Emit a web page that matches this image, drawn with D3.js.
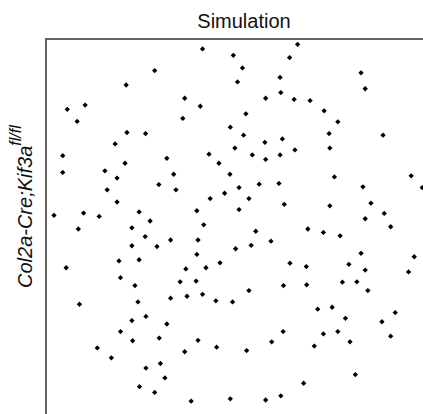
<!DOCTYPE html>
<html>
<head>
<meta charset="utf-8">
<script src="https://cdn.jsdelivr.net/npm/d3@7"></script>
<style>
  body { margin: 0; background: #fff; }
  svg { display: block; font-family: "Liberation Sans", Arial, sans-serif; }
</style>
</head>
<body>
<svg id="chart" width="423" height="414"></svg>
<script>
// simulated point positions, 0-100 in both directions (y up)
const xs = [28.6,21.1,5.6,10.3,8.2,21.3,26.2,18.2,4.4,31.8,
  41.2,49.3,51.7,64.1,50.4,61.6,61.8,57.8,65.3,36.5,40.6,36.0,52.6,48.5,52.0,57.6,62.2,49.7,42.9,54.3,57.8,61.6,65.5,
  66.2,82.9,84.0,69.5,73.2,76.8,74.5,88.7,74.7,
  4.4,20.8,15.5,18.7,29.7,16.1,18.7,2.1,9.9,14.0,24.5,27.4,8.5,22.6,26.1,32.8,22.6,29.2,19.2,24.5,5.3,19.6,23.4,
  45.5,33.6,48.4,34.2,50.8,56.1,61.3,43.2,47.0,53.4,62.7,39.7,50.8,41.5,55.2,40.0,59.2,49.9,54.0,39.7,45.8,64.2,36.8,42.1,35.3,39.5,62.5,
  75.9,96.1,99.0,83.4,74.7,85.5,84.0,89.0,90.7,68.9,73.0,77.4,82.9,96.9,68.5,79.7,84.0,95.4,68.6,78.0,81.8,
  8.8,24.2,32.8,22.6,26.3,31.8,19.6,22.8,29.8,13.5,17.2,26.3,30.1,31.3,24.6,28.6,
  37.1,41.2,44.7,49.1,53.4,40.0,36.5,44.9,52.8,59.4,62.4,38.2,48.5,57.8,61.8,
  84.7,71.5,75.3,78.8,91.9,88.4,73.0,76.8,80.0,90.7,70.6,81.4,67.8];
const ys = [91.7,87.9,81.5,82.6,78.3,75.4,75.1,72.4,69.3,68.6,
  97.4,95.7,92.4,95.1,88.7,89.9,85.9,84.4,84.1,84.4,82.3,79.1,80.3,76.8,74.7,72.8,73.7,71.3,69.7,69.5,68.3,69.5,70.8,
  98.6,91.1,86.9,83.8,81.1,78.2,75.1,74.7,71.3,
  64.9,67.3,65.3,63.4,61.7,60.3,57.1,53.6,54.2,53.3,54.5,52.1,50.0,50.3,48.0,47.1,45.6,45.4,41.6,41.9,39.8,37.2,35.1,
  67.3,64.4,64.4,60.3,60.9,61.8,62.0,58.0,59.4,58.0,56.5,54.8,55.1,51.1,49.4,47.1,46.8,44.8,45.7,43.3,41.1,41.0,39.5,39.8,36.1,36.3,35.1,
  63.7,64.0,60.9,61.1,56.1,56.8,52.7,54.1,50.6,50.0,49.1,48.2,43.6,42.7,40.1,40.7,39.2,38.7,35.3,36.0,36.1,
  30.2,30.8,31.8,25.9,27.0,25.0,23.0,20.6,21.3,18.7,16.1,13.4,14.6,10.8,8.5,7.0,
  32.3,32.8,31.1,30.8,33.8,20.7,17.7,18.9,18.0,20.3,23.0,4.7,5.3,5.0,6.1,
  33.8,28.9,29.4,26.5,28.0,25.6,22.4,23.0,20.3,21.8,19.2,11.7,9.4];

const title = "Simulation";
const yLabel = "Col2a-Cre;Kif3a";
const ySup = "fl/fl";

const svg = d3.select("#chart");
const marginLeft = 46, marginTop = 39, size = 380;

const x = d3.scaleLinear().domain([0, 100]).range([marginLeft, marginLeft + size]);
const y = d3.scaleLinear().domain([0, 100]).range([marginTop + size, marginTop]);

// frame (runs off the right and bottom edge of the picture)
svg.append("rect")
  .attr("x", marginLeft)
  .attr("y", marginTop)
  .attr("width", size + 20)
  .attr("height", size + 20)
  .attr("fill", "none")
  .attr("stroke", "#555")
  .attr("stroke-width", 1.8);

const dot = d3.symbol().type(d3.symbolDiamond2).size(18);

svg.append("g")
  .selectAll("path")
  .data(d3.zip(xs, ys))
  .join("path")
  .attr("transform", d => `translate(${x(d[0])},${y(d[1])})`)
  .attr("d", dot)
  .attr("fill", "#000");

svg.append("text")
  .attr("x", 244)
  .attr("y", 28)
  .attr("text-anchor", "middle")
  .attr("font-size", 20)
  .attr("fill", "#111")
  .text(title);

const lab = svg.append("text")
  .attr("transform", "translate(32,288) rotate(-90)")
  .attr("font-size", 20)
  .attr("font-style", "italic")
  .attr("fill", "#111");
lab.append("tspan").text(yLabel);
lab.append("tspan")
  .attr("dy", -11)
  .attr("font-size", 16)
  .text(ySup);
</script>
</body>
</html>
